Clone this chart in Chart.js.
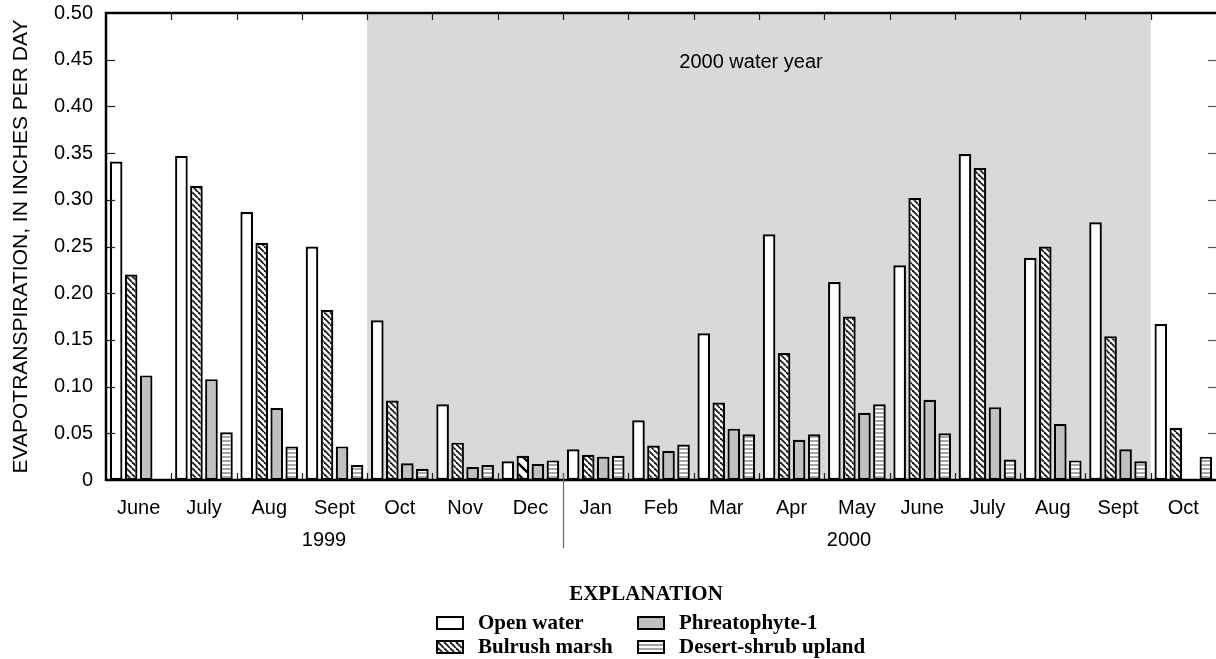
<!DOCTYPE html>
<html>
<head>
<meta charset="utf-8">
<script src="https://cdn.jsdelivr.net/npm/chart.js@4/dist/chart.umd.min.js"></script>
<style>
  html, body { margin: 0; padding: 0; background: #fff; }
  #wrap { width: 1216px; height: 659px; position: relative; }
</style>
</head>
<body>
<div id="wrap"><canvas id="c" width="1216" height="659"></canvas></div>
<script>
// Monthly mean evapotranspiration, inches per day, June 1999 - October 2000
const months = ['June','July','Aug','Sept','Oct','Nov','Dec','Jan','Feb','Mar','Apr','May','June','July','Aug','Sept','Oct'];
const years = ['1999', '2000'];
const openWater   = [0.341, 0.347, 0.287, 0.250, 0.171, 0.081, 0.020, 0.033, 0.064, 0.157, 0.263, 0.212, 0.230, 0.349, 0.238, 0.276, 0.167];
const bulrushMarsh = [0.220, 0.315, 0.254, 0.182, 0.085, 0.040, 0.026, 0.027, 0.037, 0.083, 0.136, 0.175, 0.302, 0.334, 0.250, 0.154, 0.056];
const phreatophyte = [0.112, 0.108, 0.077, 0.036, 0.018, 0.014, 0.017, 0.025, 0.031, 0.055, 0.043, 0.072, 0.086, 0.078, 0.060, 0.033, null];
const desertShrub  = [null, 0.051, 0.036, 0.016, 0.012, 0.016, 0.021, 0.026, 0.038, 0.049, 0.049, 0.081, 0.050, 0.022, 0.021, 0.020, 0.025];
const yTickStep = 0.05;
const yMax = 0.5;
// water year 2000 spans Oct 1999 (index 4) through Sept 2000 (index 15)
const waterYearFirst = 4;
const waterYearLast = 15;
const waterYearText = '2000 water year';

const SANS = '"Liberation Sans", Arial, Helvetica, sans-serif';
const SERIF = '"Liberation Serif", "Times New Roman", serif';
const INK = '#000';
const TEXT = '#000';

function makeTile(w, h, draw) {
  const c = document.createElement('canvas');
  c.width = w; c.height = h;
  const g = c.getContext('2d');
  draw(g, w, h);
  return document.getElementById('c').getContext('2d').createPattern(c, 'repeat');
}
function diagonal(size, lw, bg, fg) {
  return makeTile(size, size, (g, w, h) => {
    g.fillStyle = bg; g.fillRect(0, 0, w, h);
    g.strokeStyle = fg; g.lineWidth = lw;
    for (const k of [-1, 0, 1]) {
      g.beginPath();
      g.moveTo(k * w, 0);
      g.lineTo(k * w + w, h);
      g.stroke();
    }
  });
}
const pOpen = '#ffffff';
const pBulrush = diagonal(6, 1.8, '#ffffff', '#1a1a1a');
const pBulrushCoarse = diagonal(11, 2.4, '#ffffff', '#000000');
const pPhreato = '#c0c0c0';
const pDesert = makeTile(2, 4, (g, w, h) => {
  g.fillStyle = '#ffffff'; g.fillRect(0, 0, w, h);
  g.fillStyle = '#a5a5a5'; g.fillRect(0, 0, w, 2);
});
const bulrushFills = bulrushMarsh.map((v, i) => i === 6 ? pBulrushCoarse : pBulrush);

const legendItems = [
  { label: 'Open water', fill: pOpen, col: 0, row: 0 },
  { label: 'Bulrush marsh', fill: pBulrush, col: 0, row: 1 },
  { label: 'Phreatophyte-1', fill: pPhreato, col: 1, row: 0 },
  { label: 'Desert-shrub upland', fill: pDesert, col: 1, row: 1 }
];

const decorations = {
  id: 'decorations',
  beforeDatasetsDraw(chart) {
    const { ctx, chartArea: a, scales: { x } } = chart;
    const cw = (x.right - x.left) / months.length;
    const x0 = x.getPixelForValue(waterYearFirst) - cw / 2;
    const x1 = x.getPixelForValue(waterYearLast) + cw / 2;
    ctx.save();
    ctx.fillStyle = '#d9d9d9';
    ctx.fillRect(x0, a.top, x1 - x0, a.bottom - a.top);
    ctx.fillStyle = TEXT;
    ctx.font = '20px ' + SANS;
    ctx.textAlign = 'center';
    ctx.textBaseline = 'middle';
    ctx.fillText(waterYearText, 751, 62);
    ctx.restore();
  },
  afterDatasetsDraw(chart) {
    const { ctx, chartArea: a, scales: { x, y } } = chart;
    const cw = (x.right - x.left) / months.length;
    ctx.save();
    // month boundary ticks, top and bottom
    ctx.strokeStyle = '#222';
    ctx.lineWidth = 1.2;
    for (let i = 1; i < months.length; i++) {
      const bx = Math.round(x.left + i * cw) + 0.5;
      ctx.beginPath();
      ctx.moveTo(bx, a.top); ctx.lineTo(bx, a.top + 7);
      ctx.moveTo(bx, a.bottom); ctx.lineTo(bx, a.bottom - 7);
      ctx.stroke();
    }
    // value ticks, left and right
    for (let v = yTickStep; v < yMax - 1e-9; v += yTickStep) {
      const py = Math.round(y.getPixelForValue(v)) + 0.5;
      ctx.strokeStyle = '#222';
      ctx.beginPath(); ctx.moveTo(a.left, py); ctx.lineTo(a.left + 9, py); ctx.stroke();
      ctx.strokeStyle = '#555';
      ctx.beginPath(); ctx.moveTo(a.right, py); ctx.lineTo(a.right - 8, py); ctx.stroke();
    }
    // frame
    ctx.strokeStyle = '#000';
    ctx.lineWidth = 2.5;
    ctx.beginPath();
    ctx.moveTo(a.right, a.top); ctx.lineTo(a.left, a.top);
    ctx.lineTo(a.left, a.bottom); ctx.lineTo(a.right, a.bottom);
    ctx.stroke();
    // calendar-year divider between Dec and Jan
    const dx = Math.round(x.left + 7 * cw) + 0.5;
    ctx.strokeStyle = '#666';
    ctx.lineWidth = 1.2;
    ctx.beginPath(); ctx.moveTo(dx, a.bottom - 7); ctx.lineTo(dx, 548); ctx.stroke();
    ctx.restore();
  },
  afterDraw(chart) {
    const { ctx } = chart;
    ctx.save();
    ctx.fillStyle = TEXT;
    ctx.font = '20px ' + SANS;
    ctx.textAlign = 'center';
    ctx.textBaseline = 'middle';
    ctx.fillText(years[0], 324, 540);
    ctx.fillText(years[1], 849, 540);
    // explanation block
    ctx.font = 'bold 21px ' + SERIF;
    ctx.fillText('EXPLANATION', 646, 595);
    ctx.textAlign = 'left';
    const colX = [437, 638];
    const rowY = [623, 647];
    for (const it of legendItems) {
      const sx = colX[it.col], sy = rowY[it.row];
      ctx.fillStyle = it.fill;
      ctx.fillRect(sx, sy - 6, 26, 12);
      ctx.strokeStyle = '#000';
      ctx.lineWidth = 2;
      ctx.strokeRect(sx, sy - 6, 26, 12);
      ctx.fillStyle = TEXT;
      ctx.fillText(it.label, sx + 41, sy + 1);
    }
    ctx.restore();
  }
};

function barSet(label, data, fill) {
  return {
    label, data,
    backgroundColor: fill,
    borderColor: INK,
    borderWidth: 2.2,
    borderSkipped: false,
    categoryPercentage: 0.92,
    barPercentage: 0.84
  };
}

new Chart(document.getElementById('c'), {
  type: 'bar',
  data: {
    labels: months,
    datasets: [
      barSet('Open water', openWater, pOpen),
      barSet('Bulrush marsh', bulrushMarsh, bulrushFills),
      barSet('Phreatophyte-1', phreatophyte, pPhreato),
      barSet('Desert-shrub upland', desertShrub, pDesert)
    ]
  },
  options: {
    responsive: false,
    animation: false,
    devicePixelRatio: 1,
    layout: { padding: { top: 13, left: 0, right: 0, bottom: 0 } },
    plugins: { legend: { display: false }, tooltip: { enabled: false } },
    scales: {
      x: {
        offset: true,
        grid: { display: false, drawTicks: false },
        border: { display: false },
        ticks: { font: { family: SANS, size: 20 }, color: TEXT, padding: 16, maxRotation: 0, autoSkip: false },
        afterFit(s) { s.height = 179; s.paddingLeft = 0; s.paddingRight = 0; }
      },
      y: {
        min: 0, max: yMax,
        grid: { display: false, drawTicks: false },
        border: { display: false },
        ticks: {
          stepSize: yTickStep,
          font: { family: SANS, size: 20 }, color: TEXT, padding: 13,
          callback: v => (Math.abs(v) < 1e-9 ? '0' : v.toFixed(2))
        },
        title: {
          display: true,
          text: 'EVAPOTRANSPIRATION, IN INCHES PER DAY',
          font: { family: SANS, size: 21 }, color: TEXT,
          padding: { top: 9, bottom: 0 }
        },
        afterFit(s) { s.width = 106; s.paddingTop = 0; s.paddingBottom = 0; }
      }
    }
  },
  plugins: [decorations]
});
</script>
</body>
</html>
